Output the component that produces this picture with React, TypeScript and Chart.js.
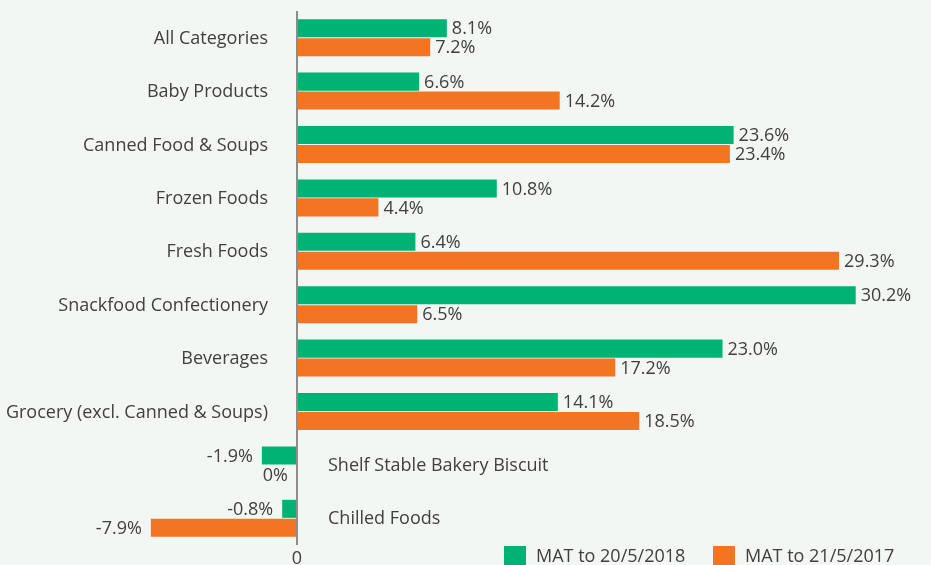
import React, { useEffect, useRef } from "react";
import { Chart, registerables } from "chart.js";

Chart.register(...registerables);

const categories = [
  "All Categories",
  "Baby Products",
  "Canned Food & Soups",
  "Frozen Foods",
  "Fresh Foods",
  "Snackfood Confectionery",
  "Beverages",
  "Grocery (excl. Canned & Soups)",
  "Shelf Stable Bakery Biscuit",
  "Chilled Foods",
];
const series2018 = [8.1, 6.6, 23.6, 10.8, 6.4, 30.2, 23.0, 14.1, -1.9, -0.8];
const series2017 = [7.2, 14.2, 23.4, 4.4, 29.3, 6.5, 17.2, 18.5, 0, -7.9];
const seriesNames = ["MAT to 20/5/2018", "MAT to 21/5/2017"];
const colors = ["#00b274", "#f47521"];

const FONT = "'Open Sans', Roboto, sans-serif";
const TEXT = "#404040";
const SIZE = 18;

const fmt = (v: number) => (v === 0 ? "0%" : v.toFixed(1) + "%");

const labelPlugin = {
  id: "customLabels",
  afterDatasetsDraw(chart: any) {
    const ctx = chart.ctx;
    const xs = chart.scales.x;
    const ys = chart.scales.y;
    const zero = xs.getPixelForValue(0);
    ctx.save();
    ctx.font = `${SIZE}px ${FONT}`;
    ctx.fillStyle = TEXT;
    ctx.textBaseline = "middle";
    chart.data.datasets.forEach((ds: any, di: number) => {
      const meta = chart.getDatasetMeta(di);
      meta.data.forEach((el: any, i: number) => {
        const v = ds.data[i];
        if (v > 0) {
          ctx.textAlign = "left";
          ctx.fillText(fmt(v), el.x + 5, el.y + 1);
        } else {
          ctx.textAlign = "right";
          ctx.fillText(fmt(v), el.x - 9, el.y + 1);
        }
      });
    });
    categories.forEach((c, i) => {
      const y = ys.getPixelForValue(i);
      const neg = series2018[i] < 0 && series2017[i] <= 0;
      if (neg) {
        ctx.textAlign = "left";
        ctx.fillText(c, zero + 31, y + 1);
      } else {
        ctx.textAlign = "right";
        ctx.fillText(c, zero - 29, y + 1);
      }
    });
    const items = [
      { x: 504, label: seriesNames[0], color: colors[0] },
      { x: 713, label: seriesNames[1], color: colors[1] },
    ];
    items.forEach((it) => {
      ctx.fillStyle = it.color;
      ctx.fillRect(it.x, 546, 22, 20);
      ctx.fillStyle = TEXT;
      ctx.textAlign = "left";
      ctx.fillText(it.label, it.x + 32, 557);
    });
    ctx.restore();
  },
};

export default function App() {
  const ref = useRef<HTMLCanvasElement>(null);
  useEffect(() => {
    document.body.style.margin = "0";
    document.body.style.background = "#f2f7f3";
    const chart = new Chart(ref.current!, {
      type: "bar",
      data: {
        labels: categories,
        datasets: [
          {
            label: seriesNames[0],
            data: series2018,
            backgroundColor: colors[0],
            barPercentage: 0.95,
            categoryPercentage: 0.71,
          },
          {
            label: seriesNames[1],
            data: series2017,
            backgroundColor: colors[1],
            barPercentage: 0.95,
            categoryPercentage: 0.71,
          },
        ],
      },
      options: {
        indexAxis: "y",
        animation: false,
        responsive: false,
        maintainAspectRatio: false,
        layout: { padding: { top: 11, left: 1, right: 5, bottom: 0 } },
        plugins: {
          legend: { display: false },
          tooltip: { enabled: false },
        },
        scales: {
          x: {
            min: -16,
            max: 34,
            border: { display: false },
            afterFit: (axis: any) => {
              axis.height = 20;
              axis.paddingLeft = 0;
              axis.paddingRight = 0;
            },
            grid: {
              drawTicks: false,
              lineWidth: (c: any) => (c.tick && c.tick.value === 0 ? 2 : 0),
              color: (c: any) =>
                c.tick && c.tick.value === 0 ? "#8c8c8c" : "rgba(0,0,0,0)",
            },
            ticks: {
              stepSize: 2,
              autoSkip: false,
              maxRotation: 0,
              padding: 5,
              color: TEXT,
              font: { family: FONT, size: SIZE, lineHeight: 1 },
              callback: (v: any) => (Number(v) === 0 ? "0" : ""),
            },
          },
          y: {
            display: false,
          },
        },
      },
      plugins: [labelPlugin],
    } as any);
    return () => chart.destroy();
  }, []);
  return (
    <div style={{ width: 931, height: 565, background: "#f2f7f3" }}>
      <canvas ref={ref} width={931} height={565} style={{ display: "block" }} />
    </div>
  );
}
